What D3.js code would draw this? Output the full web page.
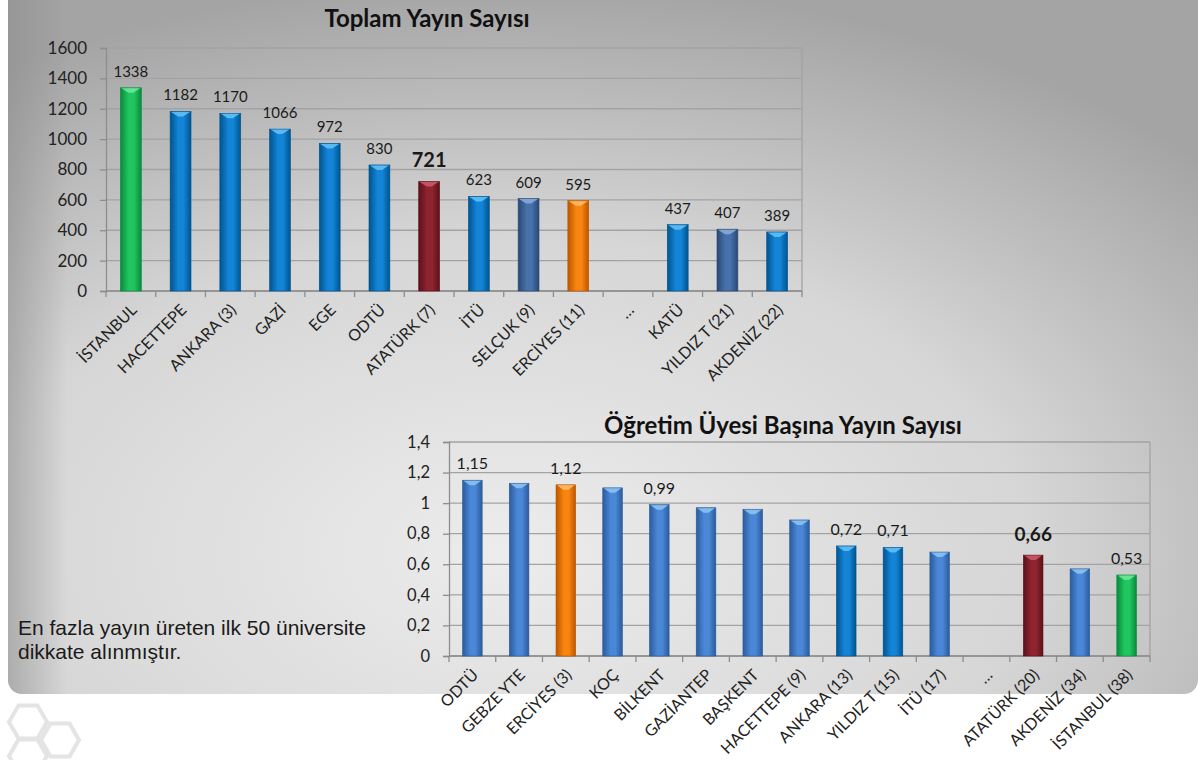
<!DOCTYPE html>
<html>
<head>
<meta charset="utf-8">
<script src="https://cdn.jsdelivr.net/npm/d3@7"></script>
<style>
    body { margin: 0; background: #ffffff; }
    svg { display: block; }
</style>
</head>
<body>
<script>
/* ========= Data ========= */
// Toplam yayin sayisi (top chart)
var totalNames = ["İSTANBUL", "HACETTEPE", "ANKARA (3)", "GAZİ", "EGE", "ODTÜ", "ATATÜRK (7)",
    "İTÜ", "SELÇUK (9)", "ERCİYES (11)", "…", "KATÜ", "YILDIZ T (21)", "AKDENİZ (22)"];
var totalValues = [1338, 1182, 1170, 1066, 972, 830, 721, 623, 609, 595, null, 437, 407, 389];
var totalColors = ["green", "blue", "blue", "blue", "blue", "blue", "red",
    "blue", "slate", "orange", null, "blue", "slate", "blue"];
var totalShowLabel = [1, 1, 1, 1, 1, 1, 1, 1, 1, 1, 0, 1, 1, 1];
var totalTicks = [0, 200, 400, 600, 800, 1000, 1200, 1400, 1600];

// Ogretim uyesi basina yayin sayisi (bottom chart)
var perNames = ["ODTÜ", "GEBZE YTE", "ERCİYES (3)", "KOÇ", "BİLKENT", "GAZİANTEP", "BAŞKENT",
    "HACETTEPE (9)", "ANKARA (13)", "YILDIZ T (15)", "İTÜ (17)", "…", "ATATÜRK (20)",
    "AKDENİZ (34)", "İSTANBUL (38)"];
var perValues = [1.15, 1.13, 1.12, 1.10, 0.99, 0.97, 0.96, 0.89, 0.72, 0.71, 0.68, null, 0.66, 0.57, 0.53];
var perColors = ["steel", "steel", "orange", "steel", "steel", "steel", "steel",
    "steel", "blue", "blue", "steel", null, "red", "steel", "green"];
var perShowLabel = [1, 0, 1, 0, 1, 0, 0, 0, 1, 1, 0, 0, 1, 0, 1];
var perTicks = [0, 0.2, 0.4, 0.6, 0.8, 1, 1.2, 1.4];

/* ========= Constants ========= */
var w = 1198;
var h = 760;
var chartFont = "Lato, 'Open Sans', sans-serif";
// edge, middle, cap
var palette = {
    green:  ["#078a3c", "#22c660", "#6fe59a"],
    blue:   ["#00548f", "#1384d6", "#62bff5"],
    slate:  ["#2a4874", "#4771aa", "#86a8d8"],
    steel:  ["#2b5b9c", "#4a87d6", "#8cc2f2"],
    red:    ["#5c1019", "#8e2430", "#c65a66"],
    orange: ["#bd5500", "#f7850f", "#ffbb6a"]
};
var commaFormat = d3.formatLocale({decimal: ",", thousands: ".", grouping: [3], currency: ["", ""]});

/* ========= Create SVG ========= */
var svg = d3.select("body")
    .append("svg")
    .attr("width", w)
    .attr("height", h);

var defs = svg.append("defs");

// panel background
var bg = defs.append("radialGradient")
    .attr("id", "panelGrad")
    .attr("cx", 0.42).attr("cy", 0.8).attr("r", 0.8);
bg.append("stop").attr("offset", "0").attr("stop-color", "#ececec");
bg.append("stop").attr("offset", "0.55").attr("stop-color", "#d6d6d6");
bg.append("stop").attr("offset", "1").attr("stop-color", "#a4a4a4");

var edge = defs.append("linearGradient")
    .attr("id", "edgeGrad")
    .attr("x1", 0).attr("x2", 1).attr("y1", 0).attr("y2", 0);
edge.append("stop").attr("offset", "0").attr("stop-color", "#8c8c8c").attr("stop-opacity", 0.55);
edge.append("stop").attr("offset", "0.05").attr("stop-color", "#8c8c8c").attr("stop-opacity", 0);
edge.append("stop").attr("offset", "1").attr("stop-color", "#8c8c8c").attr("stop-opacity", 0);

Object.keys(palette).forEach(function (k) {
    var g = defs.append("linearGradient")
        .attr("id", "bar-" + k)
        .attr("x1", 0).attr("x2", 1).attr("y1", 0).attr("y2", 0);
    g.append("stop").attr("offset", "0").attr("stop-color", palette[k][0]);
    g.append("stop").attr("offset", "0.4").attr("stop-color", palette[k][1]);
    g.append("stop").attr("offset", "0.65").attr("stop-color", palette[k][1]);
    g.append("stop").attr("offset", "1").attr("stop-color", palette[k][0]);
});

svg.append("rect")
    .attr("x", 8).attr("y", -20)
    .attr("width", 1190).attr("height", 714)
    .attr("rx", 14)
    .attr("fill", "url(#panelGrad)");
svg.append("rect")
    .attr("x", 8).attr("y", -20)
    .attr("width", 1190).attr("height", 714)
    .attr("rx", 14)
    .attr("fill", "url(#edgeGrad)");

// faint hexagon outlines below the panel
var hex = d3.range(6).map(function (i) {
    var a = Math.PI / 3 * i;
    return [Math.cos(a) * 19, Math.sin(a) * 19];
});
[[28, 722], [60, 740], [28, 756]].forEach(function (c) {
    svg.append("polygon")
        .attr("points", hex.map(function (p) { return (p[0] + c[0]) + "," + (p[1] + c[1]); }).join(" "))
        .attr("fill", "none")
        .attr("stroke", "#e4e4e4")
        .attr("stroke-width", 4);
});

/* ========= Charts ========= */
createBarChart(svg, {
    names: totalNames, values: totalValues, colors: totalColors, show: totalShowLabel,
    ticks: totalTicks, bold: "ATATÜRK (7)",
    left: 106, right: 802, top: 48, bottom: 291,
    title: "Toplam Yayın Sayısı", titleX: 427, titleY: 27,
    fmt: function (d) { return d3.format("d")(d); },
    tickFont: 17, labelFont: 15, boldFont: 20, nameFont: 16
});

createBarChart(svg, {
    names: perNames, values: perValues, colors: perColors, show: perShowLabel,
    ticks: perTicks, bold: "ATATÜRK (20)",
    left: 449, right: 1150, top: 442, bottom: 656,
    title: "Öğretim Üyesi Başına Yayın Sayısı", titleX: 783, titleY: 434,
    fmt: commaFormat.format(",.2f"), tickFmt: function (d) { return String(d).replace(".", ","); },
    tickFont: 16.5, labelFont: 16, boldFont: 19, nameFont: 16
});

// note
svg.append("text")
    .attr("x", 18).attr("y", 635)
    .attr("font-family", "'Liberation Sans', Arial, sans-serif")
    .attr("font-size", "21px")
    .attr("fill", "#1a1a1a")
    .selectAll("tspan")
    .data(["En fazla yayın üreten ilk 50 üniversite", "dikkate alınmıştır."])
    .enter().append("tspan")
    .attr("x", 18)
    .attr("dy", function (d, i) { return i ? 24 : 0; })
    .text(function (d) { return d; });

/* ========= Functions ========= */
function createBarChart(svg, o) {
    var maxTick = o.ticks[o.ticks.length - 1];
    var xScale = d3.scaleBand()
        .domain(o.names)
        .range([o.left, o.right])
        .paddingInner(0.58)
        .paddingOuter(0.29);
    var yScale = d3.scaleLinear()
        .domain([0, maxTick])
        .range([o.bottom, o.top]);
    var g = svg.append("g");

    // title
    g.append("text")
        .attr("x", o.titleX).attr("y", o.titleY)
        .attr("text-anchor", "middle")
        .attr("font-family", chartFont)
        .attr("font-weight", "bold")
        .attr("font-size", "24px")
        .attr("fill", "#111")
        .text(o.title);

    // grid lines
    g.selectAll(".grid")
        .data(o.ticks)
        .enter().append("line")
        .attr("x1", o.left).attr("x2", o.right)
        .attr("y1", function (d) { return yScale(d); })
        .attr("y2", function (d) { return yScale(d); })
        .attr("stroke", "#a3a3a3")
        .attr("stroke-width", 1.3);
    // right border
    g.append("line")
        .attr("x1", o.right).attr("x2", o.right)
        .attr("y1", o.top).attr("y2", o.bottom)
        .attr("stroke", "#a3a3a3").attr("stroke-width", 1.3);

    // y axis
    var yAxis = d3.axisLeft(yScale)
        .tickValues(o.ticks)
        .tickSize(6)
        .tickPadding(13)
        .tickFormat(o.tickFmt || function (d) { return d; });
    var ya = g.append("g")
        .attr("transform", "translate(" + o.left + ",0)")
        .call(yAxis);
    ya.select(".domain").attr("stroke", "#8d8d8d").attr("stroke-width", 1.3);
    ya.selectAll(".tick line").attr("stroke", "#8d8d8d").attr("stroke-width", 1.3);
    ya.selectAll(".tick text")
        .attr("font-family", chartFont)
        .attr("font-size", o.tickFont + "px")
        .attr("fill", "#222");

    // x axis: tick marks at category boundaries
    var bounds = o.names.map(function (n) { return xScale(n) - xScale.step() * xScale.paddingInner() / 2; });
    bounds.push(o.right);
    g.selectAll(".xtick")
        .data(bounds)
        .enter().append("line")
        .attr("x1", function (d) { return d; })
        .attr("x2", function (d) { return d; })
        .attr("y1", o.bottom).attr("y2", o.bottom + 6)
        .attr("stroke", "#8d8d8d").attr("stroke-width", 1.3);
    g.append("line")
        .attr("x1", o.left).attr("x2", o.right)
        .attr("y1", o.bottom).attr("y2", o.bottom)
        .attr("stroke", "#8d8d8d").attr("stroke-width", 1.3);

    g.selectAll(".xlabel")
        .data(o.names)
        .enter().append("text")
        .attr("transform", function (d) {
            return "translate(" + (xScale(d) + xScale.bandwidth() / 2 + 7) + "," + (o.bottom + 20) + ") rotate(-45)";
        })
        .attr("text-anchor", "end")
        .attr("font-family", chartFont)
        .attr("font-size", o.nameFont + "px")
        .attr("fill", "#222")
        .text(function (d) { return d; });

    // bars
    var data = o.names.map(function (n, i) {
        return {name: n, value: o.values[i], color: o.colors[i], show: o.show[i]};
    }).filter(function (d) { return d.value != null; });

    var bw = xScale.bandwidth();
    g.selectAll(".bar")
        .data(data)
        .enter().append("rect")
        .attr("x", function (d) { return xScale(d.name); })
        .attr("y", function (d) { return yScale(d.value); })
        .attr("width", bw)
        .attr("height", function (d) { return o.bottom - yScale(d.value); })
        .attr("fill", function (d) { return "url(#bar-" + d.color + ")"; })
        .attr("stroke", function (d) { return palette[d.color][0]; })
        .attr("stroke-width", 0.6);
    // lighter top cap
    g.selectAll(".cap")
        .data(data)
        .enter().append("path")
        .attr("d", function (d) {
            var x0 = xScale(d.name), y0 = yScale(d.value);
            return "M" + (x0 + 1) + "," + (y0 + 0.5) + "L" + (x0 + bw - 1) + "," + (y0 + 0.5) +
                "L" + (x0 + bw * 0.62) + "," + (y0 + 5) + "L" + (x0 + bw * 0.38) + "," + (y0 + 5) + "Z";
        })
        .attr("fill", function (d) { return palette[d.color][2]; })
        .attr("opacity", 0.9);

    // value labels
    g.selectAll(".val")
        .data(data.filter(function (d) { return d.show; }))
        .enter().append("text")
        .attr("x", function (d) { return xScale(d.name) + bw / 2; })
        .attr("y", function (d) { return yScale(d.value) - (d.name === o.bold ? 14 : 11); })
        .attr("text-anchor", "middle")
        .attr("font-family", chartFont)
        .attr("font-weight", function (d) { return d.name === o.bold ? "bold" : "normal"; })
        .attr("font-size", function (d) { return (d.name === o.bold ? o.boldFont : o.labelFont) + "px"; })
        .attr("fill", "#1a1a1a")
        .text(function (d) { return o.fmt(d.value); });
}
</script>
</body>
</html>
